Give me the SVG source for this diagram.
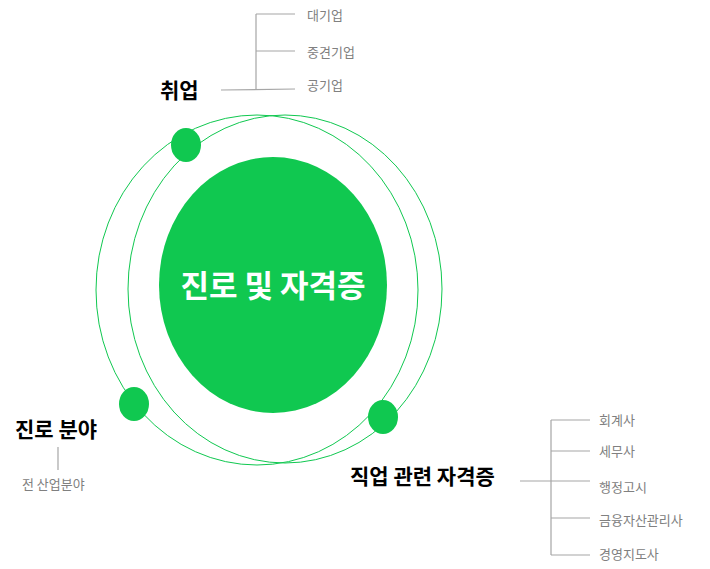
<svg xmlns="http://www.w3.org/2000/svg" width="710" height="569" viewBox="0 0 710 569">
<style>
.orbit{fill:none;stroke:#10c850;stroke-width:1}
.dot{fill:#10c850}
.ln{stroke:#a6a6a6;stroke-width:1.2;fill:none}
.h{font-family:"Noto Sans CJK KR","Noto Sans",sans-serif;font-weight:bold;font-size:21px;fill:#000}
.s{font-family:"Noto Sans CJK KR","Noto Sans",sans-serif;font-size:13px;fill:#808080}
</style>
<rect width="710" height="569" fill="#fff"/>
<g id="orbits">
<ellipse class="orbit" cx="257" cy="290" rx="161" ry="175"/>
<ellipse class="orbit" cx="285" cy="289" rx="157" ry="174"/>
</g>
<g id="center">
<ellipse cx="273" cy="285" rx="114" ry="128" fill="#10c850"/>
<text x="273" y="297" text-anchor="middle" font-family="'Noto Sans CJK KR','Noto Sans',sans-serif" font-weight="bold" font-size="31" fill="#fff">진로 및 자격증</text>
</g>
<g id="connectors">
<path class="ln" d="M221 90 L295 89 M256 14 V89 M256 14 H295 M256 51 H295"/>
<path class="ln" d="M520 481 L590 481 M551 420 V555 M551 420 H590 M551 451 H590 M551 518 H590 M551 555 H590"/>
<path class="ln" d="M58 447 V470"/>
</g>
<g id="job">
<ellipse class="dot" cx="186" cy="145" rx="15" ry="17"/>
<text class="h" x="160" y="98">취업</text>
<text class="s" x="307" y="20">대기업</text>
<text class="s" x="307" y="57">중견기업</text>
<text class="s" x="307" y="90">공기업</text>
</g>
<g id="career">
<ellipse class="dot" cx="134" cy="404" rx="15" ry="17"/>
<text class="h" x="15" y="437">진로 분야</text>
<text class="s" x="22" y="489">전 산업분야</text>
</g>
<g id="cert">
<ellipse class="dot" cx="383" cy="417" rx="15" ry="17"/>
<text class="h" x="350" y="484">직업 관련 자격증</text>
<text class="s" x="599" y="425">회계사</text>
<text class="s" x="599" y="456">세무사</text>
<text class="s" x="599" y="492">행정고시</text>
<text class="s" x="599" y="525">금융자산관리사</text>
<text class="s" x="599" y="559">경영지도사</text>
</g>
</svg>
